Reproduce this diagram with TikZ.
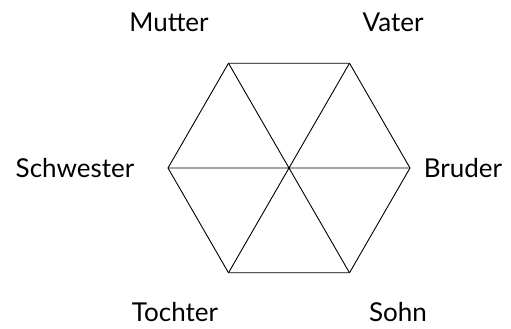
\documentclass[tikz,border=0pt]{standalone}
\usepackage{fontspec}
\setmainfont{Lato}
\usetikzlibrary{positioning,calc}
\tikzset{
  edge/.style   = {line width=0.9pt, black},
  member/.style = {font=\fontsize{26}{30}\selectfont, inner sep=0pt},
}

\begin{document}
\begin{tikzpicture}[x=1pt,y=-1pt]
  \useasboundingbox (0,0) rectangle (511,329);
  \coordinate (c) at (289,168);
  % corners of the hexagon
  \foreach \a/\n in {0/R,60/UR,120/UL,180/L,240/DL,300/DR}
    \coordinate (\n) at ($(c)+(\a:121 and -121)$);
  \draw[edge] (UL) -- (UR) -- (R) -- (DR) -- (DL) -- (L) -- cycle;
  \draw[edge] (UL) -- (DR) (UR) -- (DL) (L) -- (R);
  % family members
  \node[member] (mutter)    at (169,22)  {Mutter};
  \node[member] (vater)     at (393,22)  {Vater};
  \node[member] (schwester) at (75,168)  {Schwester};
  \node[member] (bruder)    at (463,168) {Bruder};
  \node[member, anchor=base, text depth=0pt] (tochter) at (175,321) {Tochter};
  \node[member, anchor=base, text depth=0pt] (sohn)    at (398,321) {Sohn};
\end{tikzpicture}
\end{document}
